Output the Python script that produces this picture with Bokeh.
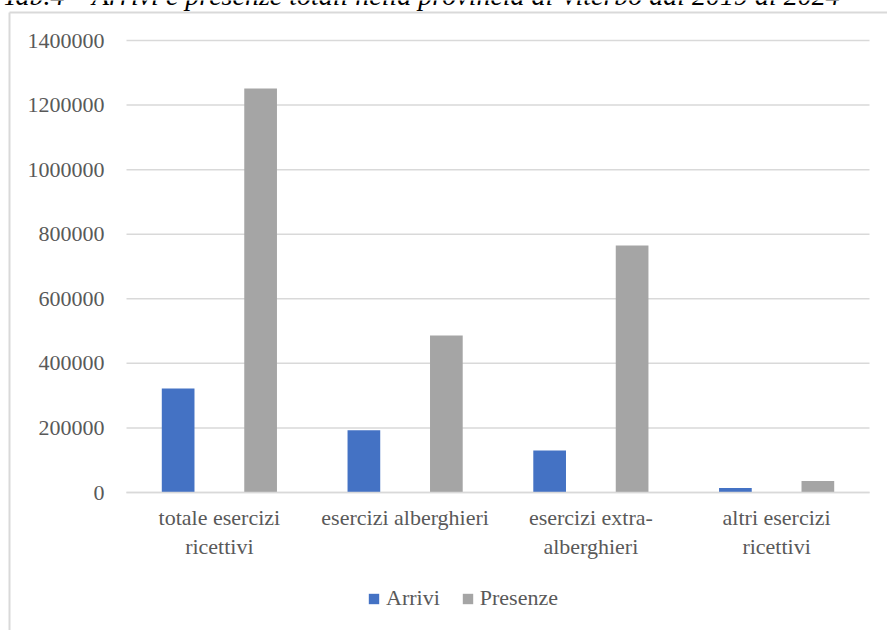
from bokeh.plotting import figure
from bokeh.models import (ColumnDataSource, Range1d, FixedTicker, BasicTickFormatter,
                          LinearAxis, Legend, LegendItem)
from bokeh.core.properties import value
from bokeh.embed import file_html
from bokeh.resources import INLINE

# ---- data ----
categories = ["totale esercizi\nricettivi", "esercizi alberghieri",
              "esercizi extra-\nalberghieri", "altri esercizi\nricettivi"]
arrivi = [322000, 193000, 130000, 14000]
presenze = [1251000, 486000, 765000, 36000]
y_ticks = [0, 200000, 400000, 600000, 800000, 1000000, 1200000, 1400000]
title_text = "Tab.4 \u2013 Arrivi e presenze totali nella provincia di Viterbo dal 2019 al 2024"
series_names = ["Arrivi", "Presenze"]

# ---- style / layout constants ----
FONT = "Liberation Serif"
TXT = "#595959"
GRID = "#d9d9d9"
BLUE = "#4472C4"
GRAY = "#A5A5A5"
W, H = 887, 630
PLOT_L, PLOT_R, PLOT_T, PLOT_B = 126, 869, 40, 492   # plot area in page pixels
Y_MAX = y_ticks[-1]
n = len(categories)
BAR_W, OFFS = 0.176, 0.222

# scales: category units horizontally, data units vertically, mapped onto the plot area
px_per_cat = (PLOT_R - PLOT_L) / n
px_per_val = (PLOT_B - PLOT_T) / Y_MAX
x_range = Range1d(-PLOT_L / px_per_cat, n + (W - PLOT_R) / px_per_cat)
y_range = Range1d(-(H - PLOT_B) / px_per_val, Y_MAX + PLOT_T / px_per_val)

p = figure(width=W, height=H, output_backend="svg", toolbar_location=None,
           x_range=x_range, y_range=y_range, x_axis_type=None, y_axis_type=None,
           min_border=0)
p.extra_x_ranges = {"px": Range1d(0, W)}
p.extra_y_ranges = {"px": Range1d(H, 0)}
p.grid.visible = False
p.outline_line_color = None
p.background_fill_color = "white"
p.border_fill_color = "white"

centers = [i + 0.5 for i in range(n)]
src = ColumnDataSource(dict(
    xa=[c - OFFS for c in centers], xp=[c + OFFS for c in centers],
    arrivi=arrivi, presenze=presenze))

# horizontal gridlines across the plot area
p.segment(x0=[0] * len(y_ticks), x1=[n] * len(y_ticks), y0=y_ticks, y1=y_ticks,
          line_color=GRID, line_width=1.5)

r1 = p.vbar(x="xa", top="arrivi", width=BAR_W, source=src, fill_color=BLUE, line_color=None)
r2 = p.vbar(x="xp", top="presenze", width=BAR_W, source=src, fill_color=GRAY, line_color=None)

# value axis
yax = LinearAxis(fixed_location=0, ticker=FixedTicker(ticks=y_ticks),
                 formatter=BasicTickFormatter(use_scientific=False),
                 axis_line_color=None, major_tick_line_color=None, minor_tick_line_color=None,
                 major_tick_out=0, major_tick_in=0, major_label_standoff=22,
                 major_label_text_font=FONT, major_label_text_font_size="22px",
                 major_label_text_color=TXT)
p.add_layout(yax, "left")

# category axis
overrides = {}
for c, lab in zip(centers, categories):
    overrides[c] = lab
    overrides[str(c)] = lab
xax = LinearAxis(fixed_location=0, ticker=FixedTicker(ticks=centers), bounds=(0, n),
                 major_label_overrides=overrides,
                 axis_line_color=GRID, axis_line_width=1.5,
                 major_tick_line_color=None, minor_tick_line_color=None,
                 major_tick_out=0, major_tick_in=0, major_label_standoff=12,
                 major_label_text_font=FONT, major_label_text_font_size="22px",
                 major_label_text_color=TXT, major_label_text_line_height=1.17)
p.add_layout(xax, "below")

# chart-area border (continues past the right and bottom edges of the page)
p.segment(x0=[9, 9], y0=[12, 12], x1=[W, 9], y1=[12, H], line_color=GRID, line_width=2,
          x_range_name="px", y_range_name="px")

# caption above the chart, mostly cut off by the top edge of the page
p.text(x=[2], y=[5], text=[title_text], text_font=value(FONT), text_font_style="italic",
       text_font_size="28px", text_color="black", text_baseline="alphabetic",
       text_align="left", y_offset=-10, x_range_name="px", y_range_name="px")

legend = Legend(items=[LegendItem(label=series_names[0], renderers=[r1]),
                       LegendItem(label=series_names[1], renderers=[r2])],
                orientation="horizontal", location=(367, H - 611),
                glyph_width=13, glyph_height=13, label_height=22,
                label_standoff=6, spacing=21, padding=0, margin=0,
                border_line_color=None, background_fill_alpha=0,
                label_text_font=FONT, label_text_font_size="22px",
                label_text_color=TXT)
p.add_layout(legend, "center")

open("out.html", "w").write(file_html(p, INLINE))
